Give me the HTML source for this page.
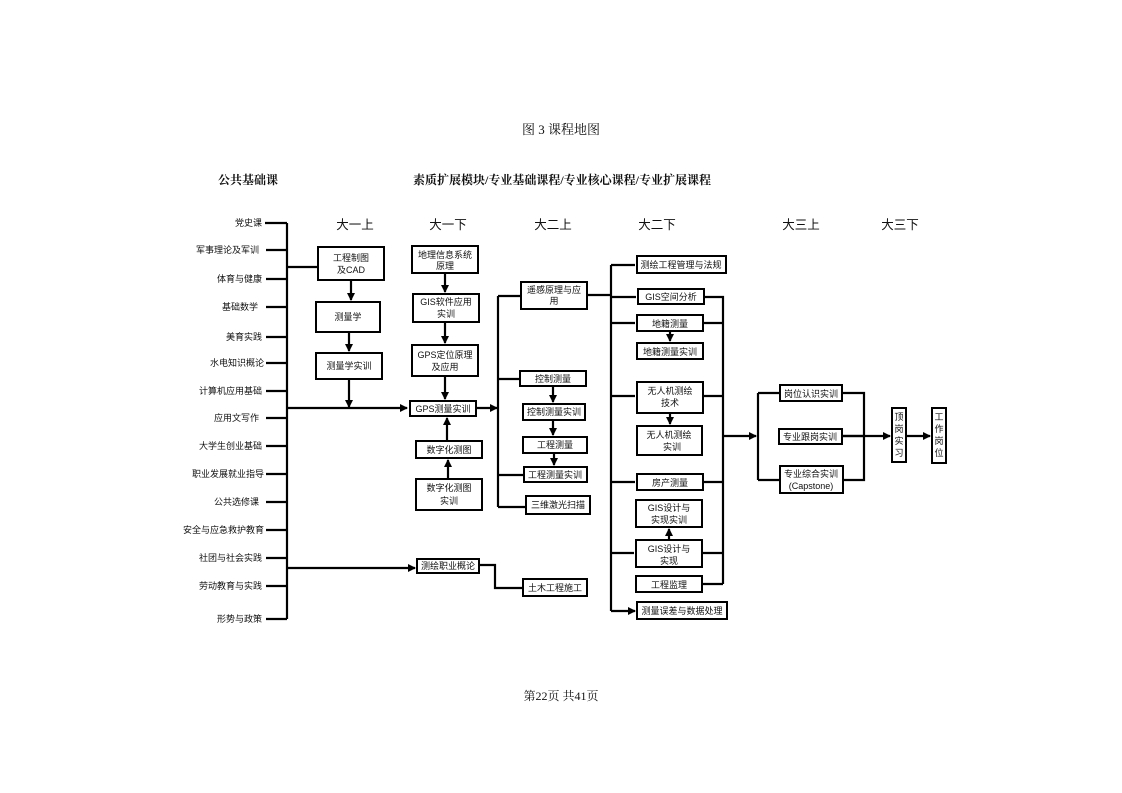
<!DOCTYPE html>
<html><head><meta charset="utf-8"><style>
html,body{margin:0;padding:0;background:#fff;}
svg{display:block;}
text{font-family:"Liberation Sans","Noto Sans CJK SC",sans-serif;fill:#111;}
.b{font-size:9px;}
.l{font-size:9px;}
.h{font-size:12.5px;}
.s{font-family:"Liberation Serif","Noto Serif CJK SC",serif;}
rect{fill:#fff;stroke:#000;stroke-width:2;}
.ln{stroke:#000;stroke-width:2.2;fill:none;}
</style></head><body>
<svg width="1122" height="793" viewBox="0 0 1122 793" xmlns="http://www.w3.org/2000/svg">
<defs><marker id="a" markerWidth="8" markerHeight="8" refX="7" refY="4" orient="auto" markerUnits="userSpaceOnUse"><path d="M0,0 L8,4 L0,8 z" fill="#000"/></marker></defs>
<text x="561" y="134" text-anchor="middle" class="s" font-size="13">图 3 课程地图</text>
<text x="248" y="184" text-anchor="middle" font-size="12" font-weight="bold" class="s">公共基础课</text>
<text x="562" y="184" text-anchor="middle" font-size="12" font-weight="bold" class="s">素质扩展模块/专业基础课程/专业核心课程/专业扩展课程</text>
<text x="561" y="700" text-anchor="middle" class="s" font-size="12">第22页  共41页</text>
<g class="h" text-anchor="middle">
<text x="355" y="229">大一上</text><text x="448" y="229">大一下</text><text x="553" y="229">大二上</text><text x="657" y="229">大二下</text><text x="801" y="229">大三上</text><text x="900" y="229">大三下</text>
</g>
<!-- left list -->
<g class="l" text-anchor="end">
<text x="262" y="226">党史课</text><text x="259" y="253">军事理论及军训</text><text x="262" y="282">体育与健康</text><text x="258" y="310">基础数学</text><text x="262" y="340">美育实践</text><text x="264" y="366">水电知识概论</text><text x="262" y="394">计算机应用基础</text><text x="259" y="421">应用文写作</text><text x="262" y="449">大学生创业基础</text><text x="264" y="477">职业发展就业指导</text><text x="259" y="505">公共选修课</text><text x="264" y="533">安全与应急救护教育</text><text x="262" y="561">社团与社会实践</text><text x="262" y="589">劳动教育与实践</text><text x="262" y="622">形势与政策</text>
</g>
<g class="ln">
<path d="M287,223 V619"/>
<path d="M265,223H287 M266,250H287 M266,279H287 M266,307H287 M266,337H287 M266,363H287 M266,391H287 M266,418H287 M266,446H287 M266,474H287 M266,502H287 M266,530H287 M266,558H287 M266,586H287 M266,619H287"/>
<path d="M287,267H318"/>
<path d="M287,408H407" marker-end="url(#a)"/>
<path d="M287,568H415" marker-end="url(#a)"/>
<path d="M351,280V300" marker-end="url(#a)"/>
<path d="M349,332V351" marker-end="url(#a)"/>
<path d="M349,379V407" marker-end="url(#a)"/>
<path d="M445,273V292" marker-end="url(#a)"/>
<path d="M445,322V343" marker-end="url(#a)"/>
<path d="M445,376V399" marker-end="url(#a)"/>
<path d="M447,441V418" marker-end="url(#a)"/>
<path d="M448,479V460" marker-end="url(#a)"/>
<path d="M476,408H497" marker-end="url(#a)"/>
<path d="M498,296V507"/>
<path d="M498,296H521 M498,379H520 M498,475H524 M498,507H526"/>
<path d="M553,386V402" marker-end="url(#a)"/>
<path d="M553,420V435" marker-end="url(#a)"/>
<path d="M554,453V465" marker-end="url(#a)"/>
<path d="M479,565H495V588H523"/>
<path d="M587,295H611"/>
<path d="M611,265V611"/>
<path d="M611,265H635 M611,297H636 M611,323H635 M611,396H635 M611,482H635 M611,553H634 M611,611H635" marker-end="url(#a)"/>
<path d="M670,331V341" marker-end="url(#a)"/>
<path d="M670,413V424" marker-end="url(#a)"/>
<path d="M669,540V529" marker-end="url(#a)"/>
<path d="M704,297H723V584 M703,323H723 M703,396H723 M703,482H723 M702,553H723 M702,584H723"/>
<path d="M723,436H756" marker-end="url(#a)"/>
<path d="M758,393V480 M758,393H780 M758,480H780"/>
<path d="M842,393H864V480H843 M842,436H890" marker-end="url(#a)"/>
<path d="M906,436H930" marker-end="url(#a)"/>
</g>
<path d="M842,436H864" class="ln"/>
<g class="b" text-anchor="middle">
<rect x="318" y="247" width="66" height="33"/><text x="351" y="261">工程制图</text><text x="351" y="273">及CAD</text>
<rect x="316" y="302" width="64" height="30"/><text x="348" y="320">测量学</text>
<rect x="316" y="353" width="66" height="26"/><text x="349" y="369">测量学实训</text>
<rect x="412" y="246" width="66" height="27"/><text x="445" y="258">地理信息系统</text><text x="445" y="269">原理</text>
<rect x="413" y="294" width="66" height="28"/><text x="446" y="305">GIS软件应用</text><text x="446" y="317">实训</text>
<rect x="412" y="345" width="66" height="31"/><text x="445" y="358">GPS定位原理</text><text x="445" y="370">及应用</text>
<rect x="410" y="401" width="66" height="15"/><text x="443" y="412">GPS测量实训</text>
<rect x="416" y="441" width="66" height="17"/><text x="449" y="453">数字化测图</text>
<rect x="416" y="479" width="66" height="31"/><text x="449" y="491">数字化测图</text><text x="449" y="504">实训</text>
<rect x="417" y="559" width="62" height="14"/><text x="448" y="569">测绘职业概论</text>
<rect x="521" y="282" width="66" height="27"/><text x="554" y="293">遥感原理与应</text><text x="554" y="304">用</text>
<rect x="520" y="371" width="66" height="15"/><text x="553" y="382">控制测量</text>
<rect x="523" y="404" width="62" height="16"/><text x="554" y="415">控制测量实训</text>
<rect x="523" y="437" width="64" height="16"/><text x="555" y="448">工程测量</text>
<rect x="524" y="467" width="63" height="15"/><text x="555" y="478">工程测量实训</text>
<rect x="526" y="496" width="64" height="18"/><text x="558" y="508">三维激光扫描</text>
<rect x="523" y="579" width="64" height="17"/><text x="555" y="591">土木工程施工</text>
<rect x="637" y="256" width="89" height="17"/><text x="681" y="268">测绘工程管理与法规</text>
<rect x="638" y="289" width="66" height="15"/><text x="671" y="300">GIS空间分析</text>
<rect x="637" y="315" width="66" height="16"/><text x="670" y="327">地籍测量</text>
<rect x="637" y="343" width="66" height="16"/><text x="670" y="355">地籍测量实训</text>
<rect x="637" y="382" width="66" height="31"/><text x="670" y="394">无人机测绘</text><text x="670" y="406">技术</text>
<rect x="637" y="426" width="65" height="29"/><text x="669" y="438">无人机测绘</text><text x="672" y="450">实训</text>
<rect x="637" y="474" width="66" height="16"/><text x="670" y="486">房产测量</text>
<rect x="636" y="500" width="66" height="27"/><text x="669" y="511">GIS设计与</text><text x="669" y="523">实现实训</text>
<rect x="636" y="540" width="66" height="27"/><text x="669" y="552">GIS设计与</text><text x="669" y="564">实现</text>
<rect x="636" y="576" width="66" height="16"/><text x="669" y="588">工程监理</text>
<rect x="637" y="602" width="90" height="17"/><text x="682" y="614">测量误差与数据处理</text>
<rect x="780" y="385" width="62" height="16"/><text x="811" y="397">岗位认识实训</text>
<rect x="779" y="429" width="63" height="15"/><text x="810" y="440">专业跟岗实训</text>
<rect x="780" y="466" width="63" height="27"/><text x="811" y="477">专业综合实训</text><text x="811" y="489">(Capstone)</text>
<rect x="892" y="408" width="14" height="54"/><text x="899" y="420">顶</text><text x="899" y="432">岗</text><text x="899" y="444">实</text><text x="899" y="456">习</text>
<rect x="932" y="408" width="14" height="55"/><text x="939" y="420">工</text><text x="939" y="432">作</text><text x="939" y="444">岗</text><text x="939" y="456">位</text>
</g>
</svg>
</body></html>
